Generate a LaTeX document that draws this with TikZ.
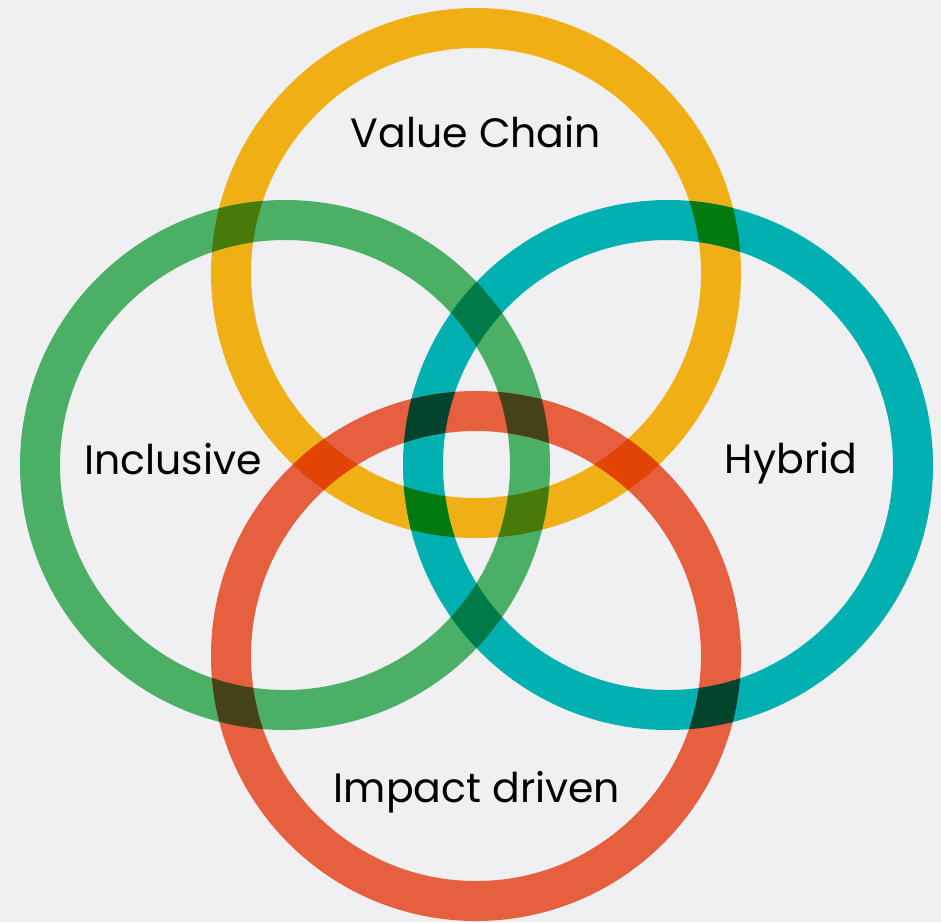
\documentclass[tikz,border=0pt]{standalone}
\usepackage{fontspec}
\setmainfont{Poppins}
\usepackage{tikz}
\definecolor{vcyellow}{RGB}{240,175,20}
\definecolor{incgreen}{RGB}{75,176,101}
\definecolor{hybteal}{RGB}{0,176,176}
\definecolor{impred}{RGB}{230,96,64}
\definecolor{vcinc}{RGB}{71,122,8}
\definecolor{vchyb}{RGB}{0,122,14}
\definecolor{vcimp}{RGB}{226,68,5}
\definecolor{inchyb}{RGB}{0,122,70}
\definecolor{incimp}{RGB}{68,66,25}
\definecolor{hybimp}{RGB}{0,68,45}
\definecolor{bggrey}{RGB}{240,240,242}

\begin{document}
\begin{tikzpicture}[x = 1pt, y = -1pt,
  ring/.style = {line width = 40pt},
  label/.style = {anchor = base, font = \fontsize{41}{48}\selectfont, text = black, inner sep = 0pt}]
\fill[bggrey] (0,0) rectangle (941,922);
\useasboundingbox (0,0) rectangle (941,922);
\coordinate (vc) at (476,273);
\coordinate (inc) at (285,465);
\coordinate (hyb) at (668,465);
\coordinate (imp) at (476,656);
\draw[ring, draw = vcyellow] (vc) circle (245);
\draw[ring, draw = incgreen] (inc) circle (245);
\draw[ring, draw = hybteal] (hyb) circle (245);
\draw[ring, draw = impred] (imp) circle (245);
\foreach \a/\b/\c in {vc/inc/vcinc, vc/hyb/vchyb, vc/imp/vcimp, inc/hyb/inchyb, inc/imp/incimp, hyb/imp/hybimp}
{
  \begin{scope}[even odd rule]
  \clip (\a) circle (265) (\a) circle (225);
  \draw[ring, draw = \c] (\b) circle (245);
  \end{scope}
}
\node[label] (vclabel) at (476,147) {Value Chain};
\node[label] (inclabel) at (173,474) {Inclusive};
\node[label] (hyblabel) at (791,473) {Hybrid};
\node[label] (implabel) at (477,802) {Impact driven};
\end{tikzpicture}
\end{document}
